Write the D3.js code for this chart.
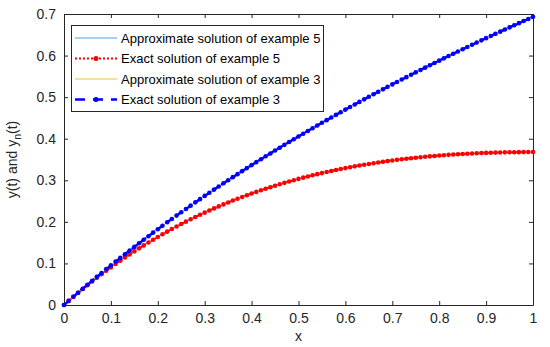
<!DOCTYPE html>
<html><head><meta charset="utf-8">
<script src="https://cdn.jsdelivr.net/npm/d3@7"></script>
<style>body{margin:0;background:#fff}svg{display:block}text{font-family:"Liberation Sans",Arial,sans-serif}</style>
</head><body>
<script>
const xs = [0,0.01,0.02,0.03,0.04,0.05,0.06,0.07,0.08,0.09,0.1,0.11,0.12,0.13,0.14,0.15,0.16,0.17,0.18,0.19,0.2,0.21,0.22,0.23,0.24,0.25,0.26,0.27,0.28,0.29,0.3,0.31,0.32,0.33,0.34,0.35,0.36,0.37,0.38,0.39,0.4,0.41,0.42,0.43,0.44,0.45,0.46,0.47,0.48,0.49,0.5,0.51,0.52,0.53,0.54,0.55,0.56,0.57,0.58,0.59,0.6,0.61,0.62,0.63,0.64,0.65,0.66,0.67,0.68,0.69,0.7,0.71,0.72,0.73,0.74,0.75,0.76,0.77,0.78,0.79,0.8,0.81,0.82,0.83,0.84,0.85,0.86,0.87,0.88,0.89,0.9,0.91,0.92,0.93,0.94,0.95,0.96,0.97,0.98,0.99,1];
const exact5 = [0,0.0099,0.0196,0.0291,0.0384,0.0476,0.0565,0.0653,0.0738,0.0823,0.0905,0.0985,0.1064,0.1142,0.1217,0.1291,0.1363,0.1434,0.1503,0.1571,0.1637,0.1702,0.1766,0.1827,0.1888,0.1947,0.2005,0.2061,0.2116,0.2170,0.2222,0.2274,0.2324,0.2372,0.2420,0.2466,0.2512,0.2556,0.2599,0.2641,0.2681,0.2721,0.2760,0.2797,0.2834,0.2869,0.2904,0.2938,0.2970,0.3002,0.3033,0.3063,0.3092,0.3120,0.3147,0.3173,0.3199,0.3223,0.3247,0.3271,0.3293,0.3314,0.3335,0.3355,0.3375,0.3393,0.3411,0.3428,0.3445,0.3461,0.3476,0.3491,0.3505,0.3518,0.3531,0.3543,0.3554,0.3565,0.3576,0.3585,0.3595,0.3603,0.3612,0.3619,0.3626,0.3633,0.3639,0.3645,0.3650,0.3655,0.3659,0.3663,0.3666,0.3669,0.3672,0.3674,0.3676,0.3677,0.3678,0.3679,0.3679];
const approx5 = exact5.slice();
const exact3 = [0,0.0100,0.0198,0.0296,0.0392,0.0488,0.0583,0.0677,0.0770,0.0862,0.0953,0.1044,0.1133,0.1222,0.1310,0.1398,0.1484,0.1570,0.1655,0.1740,0.1823,0.1906,0.1989,0.2070,0.2151,0.2231,0.2311,0.2390,0.2469,0.2546,0.2624,0.2700,0.2776,0.2852,0.2927,0.3001,0.3075,0.3148,0.3221,0.3293,0.3365,0.3436,0.3507,0.3577,0.3646,0.3716,0.3784,0.3853,0.3920,0.3988,0.4055,0.4121,0.4187,0.4253,0.4318,0.4383,0.4447,0.4511,0.4574,0.4637,0.4700,0.4762,0.4824,0.4886,0.4947,0.5008,0.5068,0.5128,0.5188,0.5247,0.5306,0.5365,0.5423,0.5481,0.5539,0.5596,0.5653,0.5710,0.5766,0.5822,0.5878,0.5933,0.5988,0.6043,0.6098,0.6152,0.6206,0.6259,0.6313,0.6366,0.6419,0.6471,0.6523,0.6575,0.6627,0.6678,0.6729,0.6780,0.6831,0.6881,0.6931];
const approx3 = exact3.slice();
const xTicks = [0,0.1,0.2,0.3,0.4,0.5,0.6,0.7,0.8,0.9,1];
const yTicks = [0,0.1,0.2,0.3,0.4,0.5,0.6,0.7];
const legendLabels = ["Approximate solution of example 5","Exact solution of example 5","Approximate solution of example 3","Exact solution of example 3"];

const W=550,H=347,m={l:64,r:17,t:14,b:42};
const svg=d3.select("body").append("svg").attr("width",W).attr("height",H);
const x=d3.scaleLinear().domain([0,1]).range([m.l,W-m.r]);
const y=d3.scaleLinear().domain([0,0.7]).range([H-m.b,m.t]);
const ax="#262626";

const gx=svg.append("g").attr("transform",`translate(0,${H-m.b})`).call(d3.axisBottom(x).tickValues(xTicks).tickFormat(d=>d3.format("")(d)).tickSizeInner(-4).tickSizeOuter(0).tickPadding(8));
const gy=svg.append("g").attr("transform",`translate(${m.l},0)`).call(d3.axisLeft(y).tickValues(yTicks).tickFormat(d=>d3.format("")(d)).tickSizeInner(-4).tickSizeOuter(0).tickPadding(8));
const gxt=svg.append("g").attr("transform",`translate(0,${m.t})`).call(d3.axisTop(x).tickValues(xTicks).tickFormat("").tickSizeInner(-4).tickSizeOuter(0));
const gyr=svg.append("g").attr("transform",`translate(${W-m.r},0)`).call(d3.axisRight(y).tickValues(yTicks).tickFormat("").tickSizeInner(-4).tickSizeOuter(0));
[gx,gy,gxt,gyr].forEach(g=>{g.selectAll("path,line").attr("stroke",ax).attr("stroke-width",1);g.selectAll("text").attr("fill",ax).style("font-size","14px").style("font-family","'Liberation Sans',Arial,sans-serif");});

const line=(ys)=>d3.line().x((d,i)=>x(xs[i])).y(d=>y(d))(ys);
const plot=svg.append("g");
plot.append("path").attr("d",line(approx5)).attr("fill","none").attr("stroke","#4DA3E0").attr("stroke-width",1);
plot.append("path").attr("d",line(exact5)).attr("fill","none").attr("stroke","#FF0000").attr("stroke-width",2).attr("stroke-dasharray","2,2");
plot.append("g").selectAll("circle").data(exact5).join("circle").attr("cx",(d,i)=>x(xs[i])).attr("cy",d=>y(d)).attr("r",2.3).attr("fill","#FF0000");
plot.append("path").attr("d",line(approx3)).attr("fill","none").attr("stroke","#F2B94A").attr("stroke-width",1);
plot.append("path").attr("d",line(exact3)).attr("fill","none").attr("stroke","#0000FF").attr("stroke-width",2.5).attr("stroke-dasharray","7,4");
plot.append("g").selectAll("circle").data(exact3).join("circle").attr("cx",(d,i)=>x(xs[i])).attr("cy",d=>y(d)).attr("r",2.3).attr("fill","#0000FF");

// legend
const lg=svg.append("g");
lg.append("rect").attr("x",71.5).attr("y",25.5).attr("width",252).attr("height",86).attr("fill","#fff").attr("stroke",ax).attr("stroke-width",1);
const rows=[38,58.5,79,99.5];
const styles=[
 {c:"#4DA3E0",w:1,dash:null,dot:false},
 {c:"#FF0000",w:2,dash:"2,2",dot:true},
 {c:"#F2B94A",w:1.2,dash:null,dot:false},
 {c:"#0000FF",w:2.5,dash:"10,8",dot:true}];
legendLabels.forEach((t,i)=>{
  const s=styles[i];
  const l=lg.append("line").attr("x1",75).attr("x2",117).attr("y1",rows[i]).attr("y2",rows[i]).attr("stroke",s.c).attr("stroke-width",s.w);
  if(s.dash) l.attr("stroke-dasharray",s.dash);
  if(s.dot) lg.append("circle").attr("cx",96).attr("cy",rows[i]).attr("r",2.5).attr("fill",s.c);
  lg.append("text").attr("x",121).attr("y",rows[i]).attr("dy","0.35em").text(t).style("font-size","13px").attr("fill","#000");
});

svg.append("text").attr("x",(m.l+W-m.r)/2).attr("y",341).attr("text-anchor","middle").style("font-size","14px").attr("fill",ax).text("x");
const yl=svg.append("text").attr("transform",`translate(17,${(m.t+H-m.b)/2}) rotate(-90)`).attr("text-anchor","middle").style("font-size","14px").attr("fill",ax);
yl.append("tspan").text("y(t) and y");
yl.append("tspan").attr("dy",4).style("font-size","10.5px").text("n");
yl.append("tspan").attr("dy",-4).text("(t)");
</script>
</body></html>
